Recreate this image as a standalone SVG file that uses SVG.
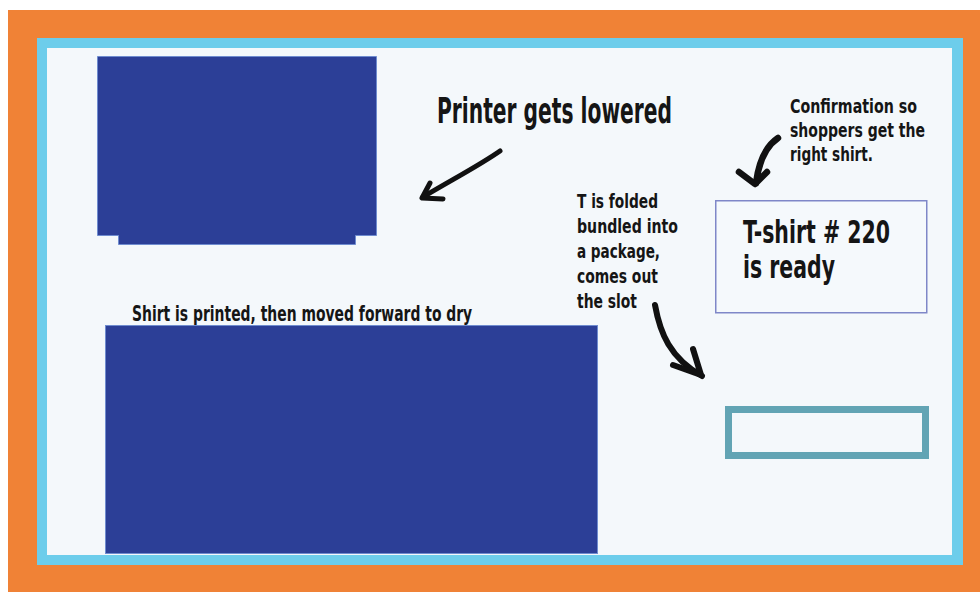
<svg xmlns="http://www.w3.org/2000/svg" width="980" height="592" viewBox="0 0 980 592">
<style>
.t{font-family:"Liberation Sans Narrow","DejaVu Sans Condensed","Liberation Sans",sans-serif;fill:#151515;font-stretch:condensed;font-weight:bold}
.blk{fill:#2c3f97;stroke:#6f8ccf;stroke-width:1}
.arr{fill:none;stroke:#111;stroke-linecap:round;stroke-linejoin:round}
</style>
<rect x="0" y="0" width="980" height="592" fill="#ffffff"/>
<rect x="8" y="10" width="972" height="582" fill="#f08236"/>
<rect x="37" y="38" width="926" height="527" fill="#6dcdeb"/>
<rect x="47" y="48" width="905" height="507" fill="#f4f8fb"/>

<g id="printer">
<path class="blk" d="M97.5 56.5H376.5V235.5H355.5V244.5H118.5V235.5H97.5Z"/>
</g>
<g id="dryer">
<rect class="blk" x="105.5" y="325.5" width="492" height="228"/>
<text class="t" transform="translate(132 321) scale(0.7 1)" x="0" y="0" font-size="22" textLength="486" lengthAdjust="spacingAndGlyphs">Shirt is printed, then moved forward to dry</text>
</g>
<g id="label-printer">
<text class="t" x="437" y="123" font-size="35" textLength="235" lengthAdjust="spacingAndGlyphs">Printer gets lowered</text>
</g>
<g id="label-confirm">
<text class="t" font-size="20"><tspan x="790" y="113" textLength="127" lengthAdjust="spacingAndGlyphs">Confirmation so</tspan><tspan x="790" y="137" textLength="135" lengthAdjust="spacingAndGlyphs">shoppers get the</tspan><tspan x="790" y="161" textLength="83" lengthAdjust="spacingAndGlyphs">right shirt.</tspan></text>
</g>
<g id="screen">
<rect x="715.75" y="200.75" width="211" height="112" fill="#f5f9fc" stroke="#7f87c8" stroke-width="1.5"/>
<text class="t" font-size="32"><tspan x="743" y="243" textLength="147" lengthAdjust="spacingAndGlyphs">T-shirt # 220</tspan><tspan x="743" y="278" textLength="92" lengthAdjust="spacingAndGlyphs">is ready</tspan></text>
</g>
<g id="label-fold">
<text class="t" font-size="19.5"><tspan x="577" y="208" textLength="81" lengthAdjust="spacingAndGlyphs">T is folded</tspan><tspan x="577" y="233" textLength="101" lengthAdjust="spacingAndGlyphs">bundled into</tspan><tspan x="577" y="258" textLength="83" lengthAdjust="spacingAndGlyphs">a package,</tspan><tspan x="577" y="283" textLength="81" lengthAdjust="spacingAndGlyphs">comes out</tspan><tspan x="577" y="308" textLength="60" lengthAdjust="spacingAndGlyphs">the slot</tspan></text>
</g>
<g id="slot">
<rect x="728.5" y="409.5" width="197" height="46" fill="none" stroke="#62a4b4" stroke-width="7"/>
</g>
<g id="connectors">
<path class="arr" stroke-width="5" d="M500 151C480 165 455 178 423 197"/>
<path class="arr" stroke-width="5" d="M430 183L422 198L443 199"/>
<path class="arr" stroke-width="6.5" d="M778 138C766 146 759 160 756 183"/>
<path class="arr" stroke-width="6.5" d="M739 172L755 184L767 172"/>
<path class="arr" stroke-width="6" d="M655 305C660 333 670 358 702 376"/>
<path class="arr" stroke-width="6" d="M693 349L701 375L673 365"/>
</g>
</svg>
